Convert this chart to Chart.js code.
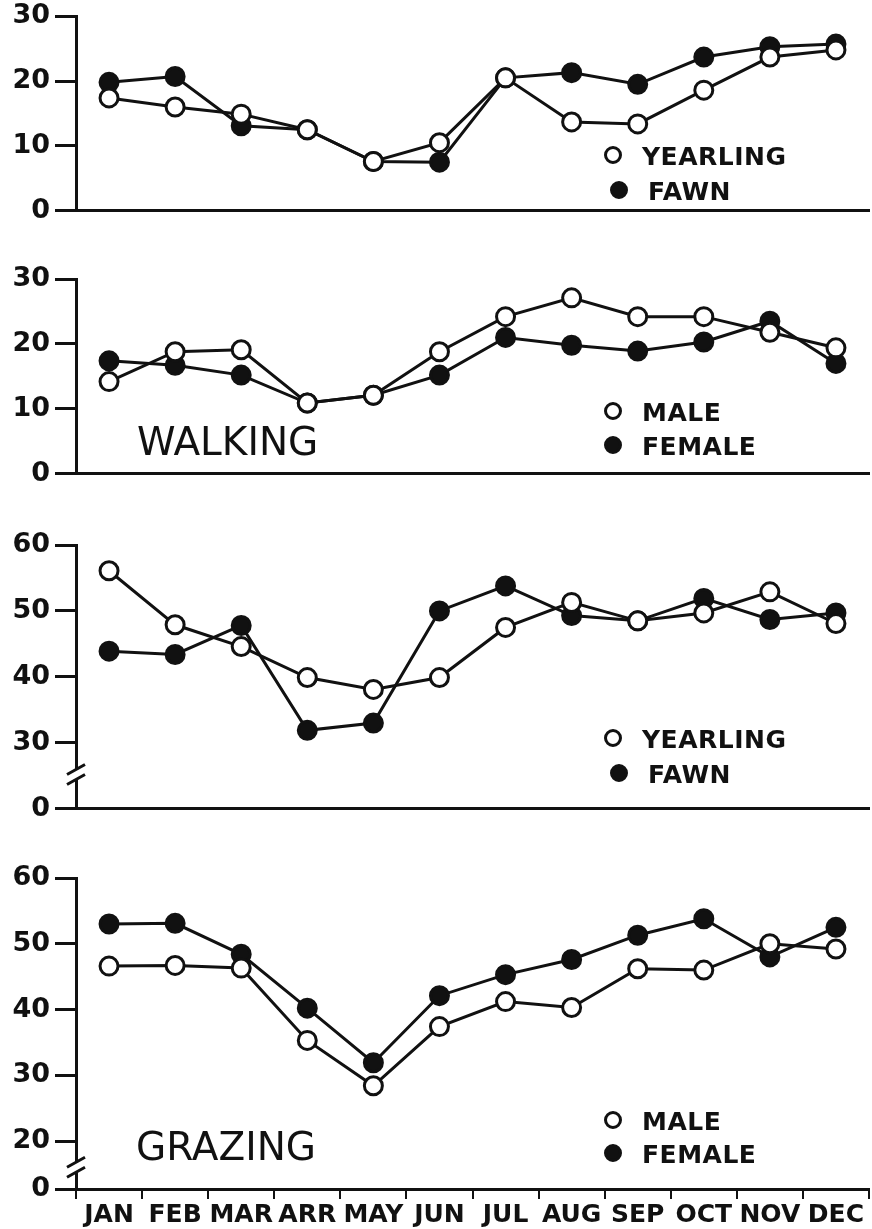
<!DOCTYPE html>
<html>
<head>
<meta charset="utf-8">
<title>Walking and grazing by month</title>
<script src="https://cdn.jsdelivr.net/npm/chart.js@4.4.0/dist/chart.umd.min.js"></script>
<style>
  body { margin: 0; background: #fff; width: 872px; height: 1229px; position: relative; overflow: hidden; font-family: "DejaVu Sans", sans-serif; color: #111; }
  canvas { position: absolute; left: 0; }
  .key { position: absolute; left: 604px; font-size: 25px; font-weight: bold; line-height: 34px; letter-spacing: 0.5px; white-space: nowrap; }
  .key.short { left: 610px; }
  .key i { display: inline-block; width: 12px; height: 12px; border: 3px solid #111; border-radius: 50%; margin-right: 20px; vertical-align: 1px; }
  .key i.fill { background: #111; }
  .title { position: absolute; font-size: 39px; line-height: 44px; white-space: nowrap; }
</style>
</head>
<body>
<canvas id="walkAge" width="872" height="237" style="top:-5px"></canvas>
<canvas id="walkSex" width="872" height="245" style="top:250px"></canvas>
<canvas id="grazeAge" width="872" height="315" style="top:515px"></canvas>
<canvas id="grazeSex" width="872" height="379" style="top:850px"></canvas>

<div class="key" style="top:140px"><i></i>YEARLING</div>
<div class="key short" style="top:175px"><i class="fill"></i>FAWN</div>
<div class="key" style="top:396px"><i></i>MALE</div>
<div class="key" style="top:430px"><i class="fill"></i>FEMALE</div>
<div class="title" style="left:137px; top:420px">WALKING</div>
<div class="key" style="top:723px"><i></i>YEARLING</div>
<div class="key short" style="top:758px"><i class="fill"></i>FAWN</div>
<div class="key" style="top:1105px"><i></i>MALE</div>
<div class="key" style="top:1138px"><i class="fill"></i>FEMALE</div>
<div class="title" style="left:136px; top:1125px">GRAZING</div>

<script>
const months = ['JAN', 'FEB', 'MAR', 'ARR', 'MAY', 'JUN', 'JUL', 'AUG', 'SEP', 'OCT', 'NOV', 'DEC'];

// walking
const walkYearling = [17.4, 16.0, 14.9, 12.5, 7.6, 10.5, 20.5, 13.7, 13.4, 18.6, 23.7, 24.8];
const walkFawn     = [19.8, 20.7, 13.1, 12.5, 7.6, 7.5, 20.5, 21.3, 19.5, 23.7, 25.3, 25.7];
const walkMale     = [14.2, 18.8, 19.1, 10.9, 12.1, 18.8, 24.2, 27.1, 24.2, 24.2, 21.8, 19.4];
const walkFemale   = [17.4, 16.7, 15.2, 10.9, 12.1, 15.2, 21.0, 19.8, 18.9, 20.3, 23.5, 17.0];

// grazing
const grazeYearling = [56.1, 47.9, 44.6, 39.9, 38.1, 39.9, 47.5, 51.3, 48.5, 49.7, 52.9, 48.1];
const grazeFawn     = [43.9, 43.4, 47.8, 31.9, 33.0, 50.0, 53.8, 49.3, 48.5, 51.9, 48.7, 49.7];
const grazeMale     = [46.6, 46.7, 46.3, 35.3, 28.4, 37.4, 41.2, 40.3, 46.2, 46.0, 50.0, 49.2];
const grazeFemale   = [53.0, 53.1, 48.4, 40.2, 31.9, 42.1, 45.3, 47.6, 51.3, 53.8, 48.0, 52.5];

// y ticks; the grazing axes are broken, so the bottom tick reads 0
const walkTicks = [0, 10, 20, 30];
const walkTickLabels = ['0', '10', '20', '30'];
const grazeAgeTicks = [20, 30, 40, 50, 60];
const grazeAgeTickLabels = ['0', '30', '40', '50', '60'];
const grazeSexTicks = [12.7, 20, 30, 40, 50, 60];
const grazeSexTickLabels = ['0', '20', '30', '40', '50', '60'];

const ink = '#111';
const face = '"DejaVu Sans", sans-serif';

// two slashes across the y axis where it is broken
const axisBreak = {
    id: 'axisBreak',
    afterDraw(chart, args, opts) {
        if (opts.at == null) return;
        const y = chart.scales.y.getPixelForValue(opts.at);
        const x = chart.scales.y.right;
        const c = chart.ctx;
        c.save();
        c.fillStyle = '#fff';
        c.fillRect(x - 4, y - 5, 8, 10);
        c.strokeStyle = ink;
        c.lineWidth = 3;
        c.beginPath();
        [-5, 5].forEach(function(d) {
            c.moveTo(x - 9, y + d + 5);
            c.lineTo(x + 9, y + d - 5);
        });
        c.stroke();
        c.restore();
    }
};

function panel(id, open, filled, cfg) {
    const ctx = document.getElementById(id).getContext('2d');
    return new Chart(ctx, {
        type: 'line',
        data: {
            labels: months,
            datasets: [
                { data: open, borderColor: ink, borderWidth: 3, pointRadius: 9, pointBorderWidth: 3,
                  pointBorderColor: ink, pointBackgroundColor: '#fff', tension: 0, clip: false },
                { data: filled, borderColor: ink, borderWidth: 3, pointRadius: 9, pointBorderWidth: 3,
                  pointBorderColor: ink, pointBackgroundColor: ink, tension: 0, clip: false }
            ]
        },
        options: {
            responsive: false,
            animation: false,
            events: [],
            layout: { autoPadding: false, padding: { top: cfg.padTop, right: 3, left: 0, bottom: 0 } },
            plugins: {
                legend: { display: false },
                tooltip: { enabled: false },
                axisBreak: { at: cfg.breakAt }
            },
            scales: {
                x: {
                    offset: true,
                    grid: { offset: true, drawOnChartArea: false, drawTicks: cfg.showMonths, tickLength: 10, color: ink, lineWidth: 2 },
                    border: { color: ink, width: 3 },
                    ticks: { display: cfg.showMonths, padding: 1, maxRotation: 0, autoSkip: false, color: ink,
                             font: { family: face, size: 25, weight: 'bold' } },
                    afterFit: function(s) { s.height = cfg.xHeight; }
                },
                y: {
                    min: cfg.ticks[0],
                    max: cfg.ticks[cfg.ticks.length - 1],
                    afterBuildTicks: function(s) { s.ticks = cfg.ticks.map(function(v) { return { value: v }; }); },
                    ticks: { padding: 5, color: ink, font: { family: face, size: 27, weight: 'bold' },
                             callback: function(v, i) { return cfg.tickLabels[i]; } },
                    grid: { drawOnChartArea: false, tickLength: 21, color: ink, lineWidth: 3 },
                    border: { color: ink, width: 3 },
                    afterFit: function(s) { s.width = 76; }
                }
            }
        },
        plugins: [axisBreak]
    });
}

panel('walkAge', walkYearling, walkFawn,
      { padTop: 20, xHeight: 19, ticks: walkTicks, tickLabels: walkTickLabels, showMonths: false, breakAt: null });
panel('walkSex', walkMale, walkFemale,
      { padTop: 29, xHeight: 16, ticks: walkTicks, tickLabels: walkTickLabels, showMonths: false, breakAt: null });
panel('grazeAge', grazeYearling, grazeFawn,
      { padTop: 30, xHeight: 19, ticks: grazeAgeTicks, tickLabels: grazeAgeTickLabels, showMonths: false, breakAt: 25.2 });
panel('grazeSex', grazeMale, grazeFemale,
      { padTop: 28, xHeight: 40, ticks: grazeSexTicks, tickLabels: grazeSexTickLabels, showMonths: true, breakAt: 16 });
</script>
</body>
</html>
